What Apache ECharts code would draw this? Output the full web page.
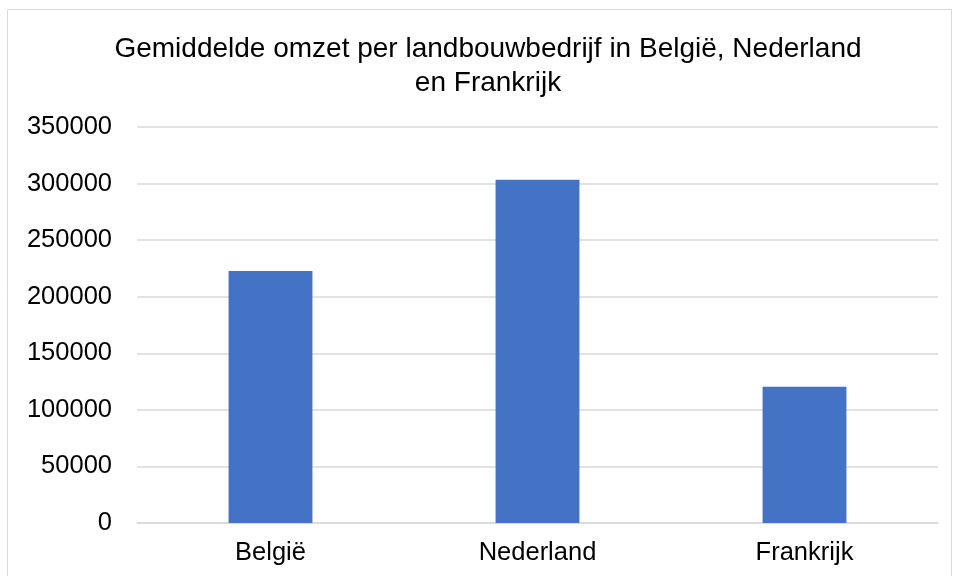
<!DOCTYPE html>
<html>
<head>
<meta charset="utf-8">
<script src="https://cdn.jsdelivr.net/npm/echarts@6/dist/echarts.min.js"></script>
<style>
  html, body { margin: 0; padding: 0; background: #fff; }
  #chart { width: 955px; height: 576px; }
</style>
</head>
<body>
<div id="chart"></div>
<script>
const titleText = "Gemiddelde omzet per landbouwbedrijf in België, Nederland\nen Frankrijk";
const categories = ["België", "Nederland", "Frankrijk"];
const omzet = [222700, 303300, 120400];
const yTicks = { min: 0, max: 350000, interval: 50000 };

const chart = echarts.init(document.getElementById("chart"));
chart.setOption({
  animation: false,
  graphic: [
    {
      type: "rect",
      shape: { x: 7.5, y: 9.5, width: 944, height: 620 },
      style: { fill: "none", stroke: "#d9d9d9", lineWidth: 1 },
      silent: true,
    },
  ],
  title: {
    text: titleText,
    left: 483,
    textAlign: "center",
    top: 27,
    textStyle: {
      fontFamily: "Liberation Sans, Arial, sans-serif",
      fontSize: 28,
      fontWeight: "normal",
      color: "#000",
      lineHeight: 34,
    },
  },
  grid: { left: 137, right: 17, top: 127, bottom: 53 },
  xAxis: {
    type: "category",
    data: categories,
    axisTick: { show: false },
    axisLine: { show: true, lineStyle: { color: "#d9d9d9", width: 1.5 } },
    axisLabel: {
      margin: 17,
      fontFamily: "Liberation Sans, Arial, sans-serif",
      fontSize: 25.5,
      color: "#000",
    },
  },
  yAxis: {
    type: "value",
    min: yTicks.min,
    max: yTicks.max,
    interval: yTicks.interval,
    axisLine: { show: false },
    axisTick: { show: false },
    splitLine: { lineStyle: { color: "#d9d9d9", width: 1.5 } },
    axisLabel: {
      margin: 25,
      fontFamily: "Liberation Sans, Arial, sans-serif",
      fontSize: 25.5,
      color: "#000",
      formatter: (v) => String(v),
    },
  },
  series: [
    {
      type: "bar",
      data: omzet,
      barWidth: "31.4%",
      itemStyle: { color: "#4472c4" },
    },
  ],
});
</script>
</body>
</html>
